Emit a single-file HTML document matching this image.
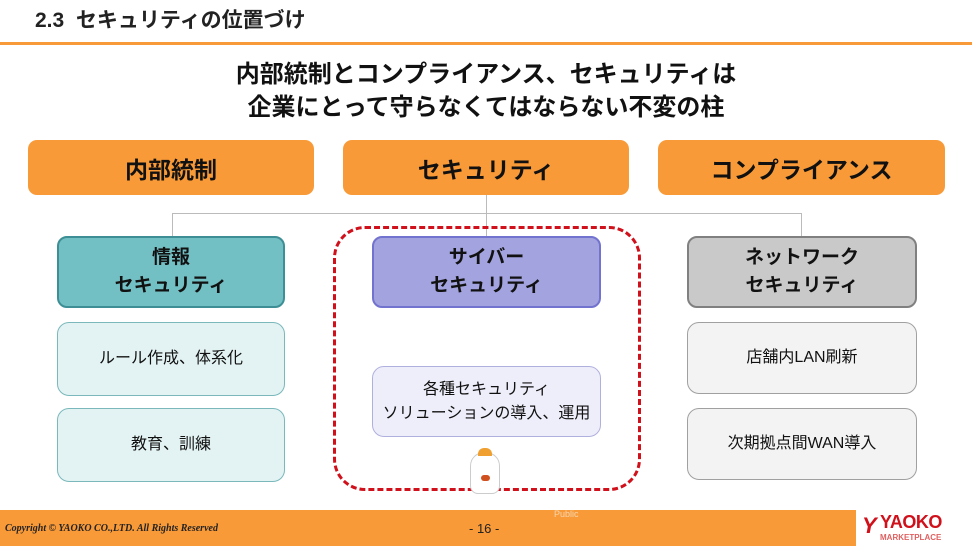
<!DOCTYPE html>
<html><head><meta charset="utf-8"><style>
body{margin:0;width:972px;height:546px;position:relative;background:#fff;overflow:hidden;font-family:"Liberation Sans","Noto Sans CJK JP",sans-serif;}
.a{position:absolute;box-sizing:border-box;display:flex;align-items:center;justify-content:center;text-align:center;color:#111;}
.or{background:#f99a38;border-radius:9px;font-weight:bold;font-size:23px;}
.hd{border-radius:10px;border:2px solid;font-weight:bold;font-size:19px;line-height:28px;}
.sb{border-radius:12px;border:1.5px solid;font-size:16px;line-height:24px;}
.ln{position:absolute;background:#bbb;}
</style></head><body>
<div style="position:absolute;left:35px;top:4px;font-size:21px;font-weight:bold;color:#222">2.3&nbsp;&nbsp;セキュリティの位置づけ</div>
<div style="position:absolute;left:0;top:42px;width:972px;height:3px;background:#f99a38"></div>
<div style="position:absolute;left:0;width:972px;top:58px;text-align:center;font-size:24px;font-weight:bold;line-height:33px;color:#111">内部統制とコンプライアンス、セキュリティは<br>企業にとって守らなくてはならない不変の柱</div>
<div class="a or" style="left:28px;top:140px;width:286px;height:55px">内部統制</div>
<div class="a or" style="left:343px;top:140px;width:286px;height:55px">セキュリティ</div>
<div class="a or" style="left:658px;top:140px;width:287px;height:55px">コンプライアンス</div>
<div class="ln" style="left:486px;top:195px;width:1px;height:42px"></div>
<div class="ln" style="left:172px;top:213px;width:630px;height:1px"></div>
<div class="ln" style="left:172px;top:213px;width:1px;height:24px"></div>
<div class="ln" style="left:801px;top:213px;width:1px;height:24px"></div>
<div style="position:absolute;left:333px;top:226px;width:308px;height:265px;border:3px dashed #d0101a;border-radius:32px;box-sizing:border-box"></div>
<div class="a hd" style="left:57px;top:236px;width:228px;height:72px;background:#72bfc4;border-color:#3d8f95">情報<br>セキュリティ</div>
<div class="a hd" style="left:372px;top:236px;width:229px;height:72px;background:#a3a3e0;border-color:#7272cf">サイバー<br>セキュリティ</div>
<div class="a hd" style="left:687px;top:236px;width:230px;height:72px;background:#c9c9c9;border-color:#808080">ネットワーク<br>セキュリティ</div>
<div class="a sb" style="left:57px;top:322px;width:228px;height:74px;background:#e3f3f3;border-color:#7ab8bb">ルール作成、体系化</div>
<div class="a sb" style="left:57px;top:408px;width:228px;height:74px;background:#e3f3f3;border-color:#7ab8bb">教育、訓練</div>
<div class="a sb" style="left:372px;top:366px;width:229px;height:71px;background:#eeeefa;border-color:#b0b0de">各種セキュリティ<br>ソリューションの導入、運用</div>
<div class="a sb" style="left:687px;top:322px;width:230px;height:72px;background:#f3f3f3;border-color:#a0a0a0">店舗内LAN刷新</div>
<div class="a sb" style="left:687px;top:408px;width:230px;height:72px;background:#f3f3f3;border-color:#a0a0a0">次期拠点間WAN導入</div>
<div style="position:absolute;left:470px;top:452px;width:30px;height:42px;background:#fff;border-radius:14px 14px 8px 8px;border:1px solid #ccc;box-sizing:border-box"></div>
<div style="position:absolute;left:478px;top:448px;width:14px;height:8px;background:#f0a030;border-radius:6px 6px 0 0"></div>
<div style="position:absolute;left:481px;top:475px;width:9px;height:6px;background:#d05020;border-radius:3px"></div>
<div style="position:absolute;left:0;top:510px;width:856px;height:36px;background:#f99a38"></div>
<div style="position:absolute;left:554px;top:509px;font-size:9px;color:#f6d7b0">Public</div>
<div style="position:absolute;left:5px;top:523px;font-size:10px;font-style:italic;font-weight:bold;font-family:'Liberation Serif',serif;color:#222">Copyright © YAOKO CO.,LTD. All Rights Reserved</div>
<div style="position:absolute;left:469px;top:521px;font-size:13px;color:#222">- 16 -</div>
<div style="position:absolute;left:862px;top:513px;font-size:22px;font-weight:bold;color:#d0101a;font-style:italic">Y</div>
<div style="position:absolute;left:880px;top:512px;font-size:18px;font-weight:bold;color:#d0101a;letter-spacing:-0.5px">YAOKO</div>
<div style="position:absolute;left:880px;top:533px;font-size:8px;font-weight:bold;color:#e06060">MARKETPLACE</div>
</body></html>
